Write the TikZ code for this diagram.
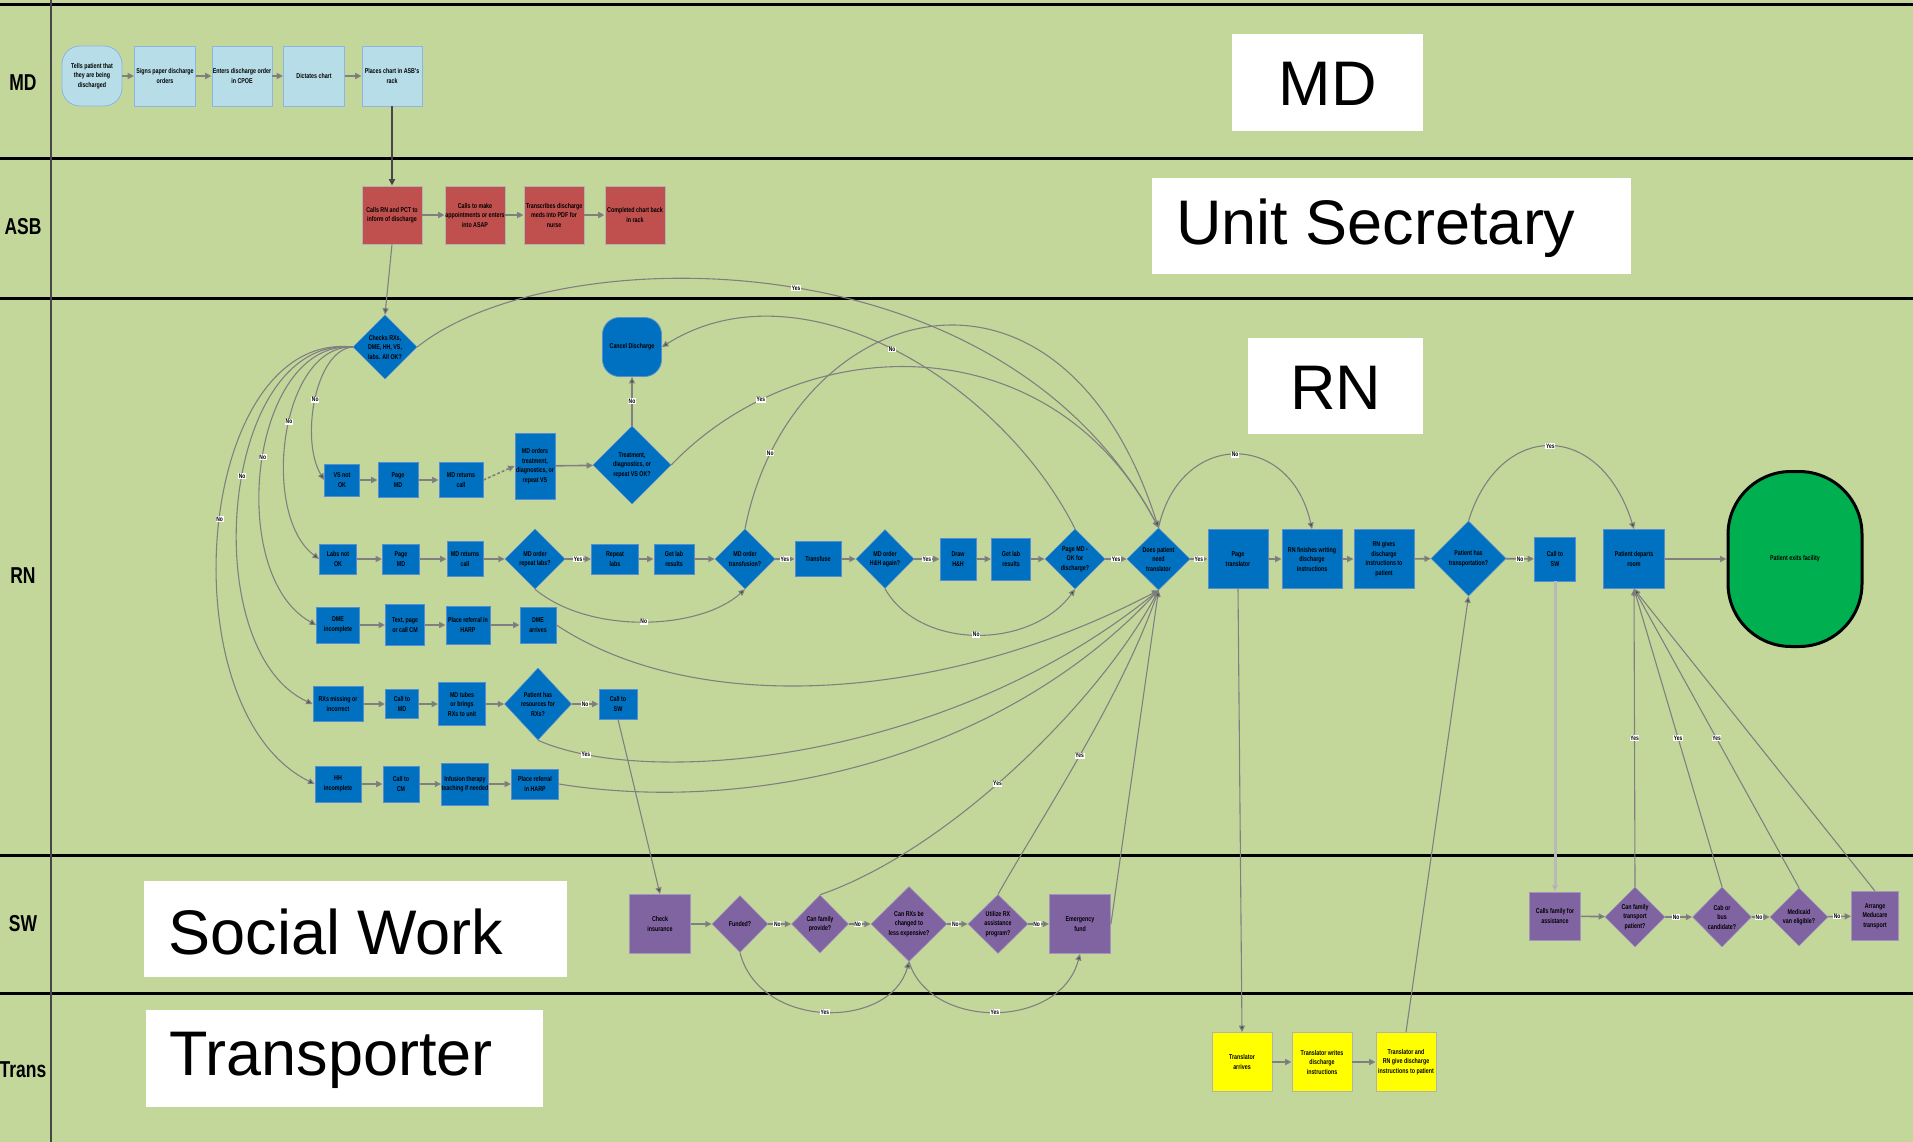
\documentclass[tikz,border=0pt]{standalone}
\usepackage{fontspec}
\setmainfont{Liberation Sans}
\newfontfamily\nbf[FakeStretch=0.76]{Liberation Sans}
\usetikzlibrary{shapes.geometric,arrows.meta}
\definecolor{bg}{RGB}{196,215,155}
\definecolor{bblue}{RGB}{0,112,192}
\definecolor{bbord}{RGB}{84,141,212}
\definecolor{lblue}{RGB}{183,222,232}
\definecolor{lbord}{RGB}{141,180,226}
\definecolor{rred}{RGB}{192,80,77}
\definecolor{ppl}{RGB}{128,100,162}
\definecolor{pbord}{RGB}{160,150,190}
\definecolor{yel}{RGB}{255,255,0}
\definecolor{grn}{RGB}{0,176,80}
\definecolor{cgray}{RGB}{128,128,128}
\definecolor{tgray}{RGB}{70,70,70}
\tikzset{
 txt/.style={font=\nbf\bfseries\fontsize{7}{9.5}\selectfont, align=center, text=black},
 base/.style 2 args={rectangle, line width=0.8pt, minimum width=#1, minimum height=#2, inner sep=0pt, txt},
 blu/.style 2 args={base={#1}{#2}, draw=bbord, fill=bblue},
 lbx/.style 2 args={base={#1}{#2}, draw=lbord, fill=lblue},
 rbx/.style 2 args={base={#1}{#2}, draw=gray!60, fill=rred},
 pbx/.style 2 args={base={#1}{#2}, draw=pbord, fill=ppl},
 ybx/.style 2 args={base={#1}{#2}, draw=gray!60, fill=yel},
 bdia/.style 2 args={diamond, fill=bblue, draw=bbord, line width=0.5pt, minimum width=#1, minimum height=#2, inner sep=0pt},
 pdia/.style 2 args={diamond, fill=ppl, draw=pbord, line width=0.5pt, minimum width=#1, minimum height=#2, inner sep=0pt},
 arr/.style={draw=cgray, line width=1.6pt, -{Triangle[length=6.5pt,width=6pt,fill=tgray]}},
 crv/.style={arr, line width=1.1pt},
 lbl/.style={fill=white, inner sep=0.7pt, font=\nbf\bfseries\fontsize{6.5}{6.5}\selectfont, text=black},
 lane/.style={font=\nbf\bfseries\fontsize{23}{23}\selectfont, text=black},
 bigbox/.style 2 args={fill=white, minimum width=#1, minimum height=#2, inner sep=0pt},
 bigtxt/.style={font=\fontsize{63}{63}\selectfont, text=black, inner sep=0pt}
}
\begin{document}
\begin{tikzpicture}[x=1pt,y=-1pt]
\useasboundingbox (0,0) rectangle (1913,1142);
\fill[bg] (0,0) rectangle (1913,1142);
\foreach \yy in {5,159,298,855,993} \draw[black, line width=3pt] (0,\yy) -- (1913,\yy);
\draw[tgray, line width=2pt] (51,0) -- (51,1142);

% lane labels
\node[lane] (lmd) at (23,83) {MD};
\node[lane] (lasb) at (23,227) {ASB};
\node[lane] (lrn) at (23,576) {RN};
\node[lane] (lsw) at (23,924) {SW};
\node[lane] (ltr) at (23,1070) {Trans};

% big labels
\node[bigbox={191}{97}] (bmd) at (1327.5,82.5) {};
\node[bigtxt] (bmdt) at (1327.5,84) {MD};
\node[bigbox={479}{96}] (bus) at (1391.5,226) {};
\node[bigtxt] (bust) at (1376,228) {Unit Secretary};
\node[bigbox={175}{96}] (brn) at (1335.5,386) {};
\node[bigtxt] (brnt) at (1335.5,388) {RN};
\node[bigbox={423}{96}] (bsw) at (355.5,929) {};
\node[bigtxt] (bswt) at (336,932) {Social Work};
\node[bigbox={397}{97}] (btr) at (344.5,1058.5) {};
\node[bigtxt] (btrt) at (331,1060) {Transporter};

% MD lane
\node[lbx={60}{60}, rounded corners=18pt] (t1) at (92,76) {Tells patient that\\they are being\\discharged};
\node[lbx={61}{60}] (t2) at (165,76) {Signs paper discharge\\orders};
\node[lbx={60}{60}] (t3) at (242,76) {Enters discharge order\\in CPOE};
\node[lbx={61}{60}] (t4) at (314,76) {Dictates chart};
\node[lbx={60}{60}] (t5) at (392,76) {Places chart in ASB's\\rack};

% ASB lane
\node[rbx={60}{58}] (a1) at (392,215) {Calls RN and PCT to\\inform of discharge};
\node[rbx={60}{58}] (a2) at (475,215) {Calls to make\\appointments or enters\\into ASAP};
\node[rbx={60}{58}] (a3) at (554,215) {Transcribes discharge\\meds into PDF for\\nurse};
\node[rbx={60}{58}] (a4) at (635,215) {Completed chart back\\in rack};

% RN lane
\node[bdia={64}{64}] (chk) at (385,347) {};
\node[txt] (chkt) at (chk) {Checks RXs,\\DME, HH, VS,\\labs. All OK?};
\node[blu={59}{59}, rounded corners=17pt] (cancel) at (632,347) {Cancel Discharge};

\node[blu={35}{32}] (vs) at (342,480) {VS not\\OK};
\node[blu={40}{35}] (pmd1) at (398,480) {Page\\MD};
\node[blu={44}{35}] (mdr1) at (461,480) {MD returns\\call};
\node[blu={40}{66}] (mdo) at (535,466) {MD orders\\treatment,\\diagnostics, or\\repeat VS};
\node[bdia={78}{78}] (trt) at (632,465) {};
\node[txt] (trtt) at (trt) {Treatment,\\diagnostics, or\\repeat VS OK?};

\node[blu={37}{30}] (labs) at (338,559) {Labs not\\OK};
\node[blu={37}{30}] (pmd2) at (401,559) {Page\\MD};
\node[blu={36}{35}] (mdr2) at (465,559) {MD returns\\call};
\node[bdia={60}{60}] (mrl) at (535,559) {};
\node[txt] (mrlt) at (mrl) {MD order\\repeat labs?};
\node[blu={47}{30}] (rpl) at (615,559) {Repeat\\labs};
\node[blu={40}{30}] (glr1) at (674,559) {Get lab\\results};
\node[bdia={60}{60}] (trf) at (745,559) {};
\node[txt] (trft) at (trf) {MD order\\transfusion?};
\node[blu={46}{35}] (tfs) at (818,559) {Transfuse};
\node[bdia={58}{59}] (hha) at (885,559) {};
\node[txt] (hhat) at (hha) {MD order\\H\&H again?};
\node[blu={36}{42}] (dhh) at (958,559) {Draw\\H\&H};
\node[blu={39}{42}] (glr2) at (1011,559) {Get lab\\results};
\node[bdia={60}{60}] (pmok) at (1075,559) {};
\node[txt] (pmokt) at (pmok) {Page MD -\\OK for\\discharge?};
\node[bdia={63}{62}] (tr) at (1158.5,559) {};
\node[txt] (trt2) at (tr) {Does patient\\need\\translator};
\node[blu={60}{59}] (ptr) at (1238,559) {Page\\translator};
\node[blu={60}{59}] (rnf) at (1312,559) {RN finishes writing\\discharge\\instructions};
\node[blu={60}{59}] (rng) at (1384,559) {RN gives\\discharge\\instructions to\\patient};
\node[bdia={75}{75}] (pht) at (1468.5,558.5) {};
\node[txt] (phtt) at (pht) {Patient has\\transportation?};
\node[blu={41}{44}] (csw2) at (1555,559) {Call to\\SW};
\node[blu={61}{59}] (pdr) at (1634,559) {Patient departs\\room};
\node[draw=black, line width=3pt, fill=grn, rounded corners=63pt, minimum width=134, minimum height=175, inner sep=0pt, txt] (exit) at (1795,559) {Patient exits facility};

\node[blu={43}{36}] (dmei) at (338,625) {DME\\incomplete};
\node[blu={39}{41}] (tpc) at (405,625) {Text, page\\or call CM};
\node[blu={44}{38}] (prh) at (468,625) {Place referral in\\HARP};
\node[blu={36}{36}] (dmea) at (538,625) {DME\\arrives};

\node[blu={50}{35}] (rxm) at (338,704) {RXs missing or\\incorrect};
\node[blu={33}{29}] (ctmd) at (402,704) {Call to\\MD};
\node[blu={47}{43}] (mdt) at (462,704) {MD tubes\\or brings\\RXs to unit};
\node[bdia={67}{72}] (prx) at (538,704) {};
\node[txt] (prxt) at (prx) {Patient has\\resources for\\RXs?};
\node[blu={38}{30}] (csw1) at (618,704) {Call to\\SW};

\node[blu={46}{36}] (hhi) at (338,784) {HH\\incomplete};
\node[blu={36}{36}] (ccm) at (401,784) {Call to\\CM};
\node[blu={46}{42}] (inf) at (465,784) {Infusion therapy\\teaching if needed};
\node[blu={47}{30}] (hhr) at (535,784) {Place referral\\in HARP};

% SW lane
\node[pbx={61}{59}] (cin) at (660,924) {Check\\insurance};
\node[pdia={56}{57}] (fun) at (740,924) {};
\node[txt] (funt) at (fun) {Funded?};
\node[pdia={57}{58}] (cfp) at (820,924) {};
\node[txt] (cfpt) at (cfp) {Can family\\provide?};
\node[pdia={76}{75}] (crx) at (909,924) {};
\node[txt] (crxt) at (crx) {Can RXs be\\changed to\\less expensive?};
\node[pdia={60}{59}] (urx) at (998,924) {};
\node[txt] (urxt) at (urx) {Utilize RX\\assistance\\program?};
\node[pbx={61}{59}] (emf) at (1080,924) {Emergency\\fund};

\node[pbx={51}{48}] (cfa) at (1555,916) {Calls family for\\assistance};
\node[pdia={60}{60}] (cft) at (1635,917) {};
\node[txt] (cftt) at (cft) {Can family\\transport\\patient?};
\node[pdia={59}{60}] (cab) at (1722,917) {};
\node[txt] (cabt) at (cab) {Cab or\\bus\\candidate?};
\node[pdia={58}{58}] (med) at (1799,917) {};
\node[txt] (medt) at (med) {Medicaid\\van eligible?};
\node[pbx={47}{49}] (amt) at (1875,916) {Arrange\\Meducare\\transport};

% Trans lane
\node[ybx={60}{59}] (tra) at (1242,1062) {Translator\\arrives};
\node[ybx={60}{59}] (trw) at (1322,1062) {Translator writes\\discharge\\instructions};
\node[ybx={60}{59}] (trn) at (1406,1062) {Translator and\\RN give discharge\\instructions to patient};

% ---- connectors ----
\draw[arr] (t1) -- (t2);
\draw[arr] (t2) -- (t3);
\draw[arr] (t3) -- (t4);
\draw[arr] (t4) -- (t5);
\draw[arr, draw=tgray] (t5) -- (a1);
\draw[arr] (a1) -- (a2);
\draw[arr] (a2) -- (a3);
\draw[arr] (a3) -- (a4);
\draw[crv] (a1.south) -- (chk.north);

\draw[crv] (chk.west) .. controls (315,350) and (300,440) .. (vs.west) node[lbl,pos=.5]{No};
\draw[crv] (chk.west) .. controls (280,345) and (260,515) .. (labs.west) node[lbl,pos=.45]{No};
\draw[crv] (chk.west) .. controls (250,340) and (225,575) .. (dmei.west) node[lbl,pos=.48]{No};
\draw[crv] (chk.west) .. controls (220,335) and (195,650) .. (rxm.west) node[lbl,pos=.45]{No};
\draw[crv] (chk.west) .. controls (195,330) and (165,710) .. (hhi.west) node[lbl,pos=.48]{No};
\draw[crv] (chk.east) .. controls (550,240) and (1000,230) .. (tr.north) node[lbl,pos=.52]{Yes};

\draw[arr] (vs) -- (pmd1);
\draw[arr] (pmd1) -- (mdr1);
\draw[arr, densely dashed] (mdr1.east) -- (mdo.west);
\draw[arr] (mdo) -- (trt);
\draw[crv] (trt.north) -- (cancel.south) node[lbl,midway]{No};
\draw[crv] (trt.east) .. controls (800,330) and (1050,320) .. (tr.north) node[lbl,pos=.2]{Yes};
\draw[crv] (pmok.north) .. controls (1000,380) and (800,260) .. (cancel.east) node[lbl,pos=.5]{No};
\draw[crv] (trf.north) .. controls (790,300) and (1060,220) .. (tr.north) node[lbl,pos=.12]{No};

\draw[arr] (labs) -- (pmd2);
\draw[arr] (pmd2) -- (mdr2);
\draw[arr] (mdr2) -- (mrl);
\draw[arr] (mrl) -- (rpl) node[lbl,pos=.5]{Yes};
\draw[arr] (rpl) -- (glr1);
\draw[arr] (glr1) -- (trf);
\draw[arr] (trf) -- (tfs) node[lbl,pos=.5]{Yes};
\draw[arr] (tfs) -- (hha);
\draw[arr] (hha) -- (dhh) node[lbl,pos=.5]{Yes};
\draw[arr] (dhh) -- (glr2);
\draw[arr] (glr2) -- (pmok);
\draw[arr] (pmok) -- (tr) node[lbl,pos=.5]{Yes};
\draw[arr] (tr) -- (ptr) node[lbl,pos=.5]{Yes};
\draw[arr] (ptr) -- (rnf);
\draw[arr] (rnf) -- (rng);
\draw[arr] (rng) -- (pht);
\draw[arr] (pht) -- (csw2) node[lbl,pos=.5]{No};
\draw[arr] (pdr) -- (exit);
\draw[crv] (mrl.south) .. controls (590,635) and (700,630) .. (trf.south) node[lbl,pos=.5]{No};
\draw[crv] (hha.south) .. controls (920,650) and (1030,650) .. (pmok.south) node[lbl,pos=.5]{No};
\draw[crv] (tr.north) .. controls (1180,430) and (1290,430) .. (rnf.north) node[lbl,pos=.5]{No};
\draw[crv] (pht.north) .. controls (1500,420) and (1600,420) .. (pdr.north) node[lbl,pos=.5]{Yes};
\draw[arr, draw=gray!55, line width=3pt] (csw2.south) -- (cfa.north);

\draw[arr] (dmei) -- (tpc);
\draw[arr] (tpc) -- (prh);
\draw[arr] (prh) -- (dmea);
\draw[crv] (dmea.east) .. controls (700,720) and (950,700) .. (tr.south);

\draw[arr] (rxm) -- (ctmd);
\draw[arr] (ctmd) -- (mdt);
\draw[arr] (mdt) -- (prx);
\draw[arr] (prx) -- (csw1) node[lbl,pos=.5]{No};
\draw[crv] (prx.south) .. controls (650,790) and (950,760) .. (tr.south) node[lbl,pos=.12]{Yes};
\draw[crv] (csw1.south) -- (cin.north);

\draw[arr] (hhi) -- (ccm);
\draw[arr] (ccm) -- (inf);
\draw[arr] (inf) -- (hhr);
\draw[crv] (hhr.east) .. controls (750,815) and (1000,760) .. (tr.south);

\draw[arr] (cin) -- (fun);
\draw[arr] (fun) -- (cfp) node[lbl,pos=.4]{No};
\draw[arr] (cfp) -- (crx) node[lbl,pos=.4]{No};
\draw[arr] (crx) -- (urx) node[lbl,pos=.4]{No};
\draw[arr] (urx) -- (emf) node[lbl,pos=.4]{No};
\draw[crv] (fun.south) .. controls (760,1030) and (890,1030) .. (crx.south) node[lbl,pos=.5]{Yes};
\draw[crv] (crx.south) .. controls (930,1030) and (1060,1030) .. (emf.south) node[lbl,pos=.5]{Yes};
\draw[crv] (cfp.north) .. controls (950,850) and (1100,700) .. (tr.south) node[lbl,pos=.45]{Yes};
\draw[crv] (urx.north) .. controls (1040,820) and (1120,700) .. (tr.south) node[lbl,pos=.5]{Yes};
\draw[crv] (emf.east) -- (tr.south);

\draw[arr] (cfa) -- (cft);
\draw[arr] (cft) -- (cab) node[lbl,pos=.4]{No};
\draw[arr] (cab) -- (med) node[lbl,pos=.4]{No};
\draw[arr] (med) -- (amt) node[lbl,pos=.4]{No};
\draw[crv] (cft.north) -- (pdr.south) node[lbl,pos=.5]{Yes};
\draw[crv] (cab.north) -- (pdr.south) node[lbl,pos=.5]{Yes};
\draw[crv] (med.north) -- (pdr.south) node[lbl,pos=.5]{Yes};
\draw[crv] (amt.north) -- (pdr.south);

\draw[crv] (ptr.south) -- (tra.north);
\draw[arr] (tra) -- (trw);
\draw[arr] (trw) -- (trn);
\draw[crv] (trn.north) -- (pht.south);
\end{tikzpicture}
\end{document}
